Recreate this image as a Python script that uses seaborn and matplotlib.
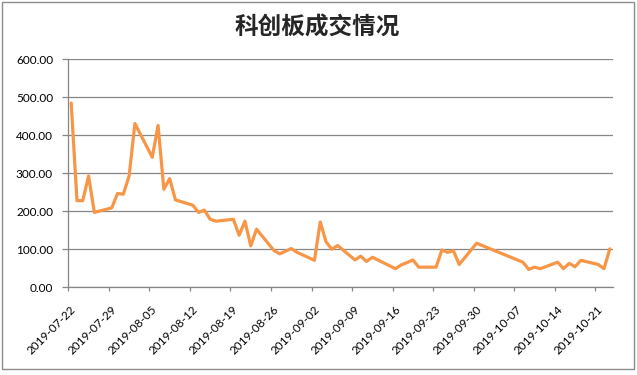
import numpy as np
import pandas as pd
import matplotlib
matplotlib.use("Agg")
import matplotlib.pyplot as plt
import matplotlib.dates as mdates
import matplotlib.ticker as mticker
from matplotlib.patches import Rectangle
from matplotlib.transforms import ScaledTranslation
import seaborn as sns

title = "科创板成交情况"
dates = [
    "2019-07-22", "2019-07-23", "2019-07-24", "2019-07-25", "2019-07-26",
    "2019-07-29", "2019-07-30", "2019-07-31", "2019-08-01", "2019-08-02",
    "2019-08-05", "2019-08-06", "2019-08-07", "2019-08-08", "2019-08-09",
    "2019-08-12", "2019-08-13", "2019-08-14", "2019-08-15", "2019-08-16",
    "2019-08-19", "2019-08-20", "2019-08-21", "2019-08-22", "2019-08-23",
    "2019-08-26", "2019-08-27", "2019-08-28", "2019-08-29", "2019-08-30",
    "2019-09-02", "2019-09-03", "2019-09-04", "2019-09-05", "2019-09-06",
    "2019-09-09", "2019-09-10", "2019-09-11", "2019-09-12",
    "2019-09-16", "2019-09-17", "2019-09-18", "2019-09-19", "2019-09-20",
    "2019-09-23", "2019-09-24", "2019-09-25", "2019-09-26", "2019-09-27",
    "2019-09-30",
    "2019-10-08", "2019-10-09", "2019-10-10", "2019-10-11",
    "2019-10-14", "2019-10-15", "2019-10-16", "2019-10-17", "2019-10-18",
    "2019-10-21", "2019-10-22", "2019-10-23",
]
turnover = [
    485, 228, 228, 293, 197,
    209, 247, 245, 293, 431,
    342, 426, 258, 286, 230,
    216, 197, 203, 179, 174,
    179, 137, 174, 109, 153,
    97, 88, 95, 102, 92,
    71, 172, 120, 100, 110,
    72, 82, 68, 79,
    49, 59, 65, 72, 53,
    53, 98, 92, 96, 60,
    116,
    66, 47, 53, 49,
    66, 49, 63, 54, 71,
    60, 49, 101,
]
tick_dates = pd.date_range("2019-07-22", "2019-10-21", freq="7D")
y_ticks = [0, 100, 200, 300, 400, 500, 600]

df = pd.DataFrame({"date": pd.to_datetime(dates) + pd.Timedelta(hours=12),
                   "value": turnover})

sns.set_theme(style="white")
plt.rcParams["font.family"] = ["Lato", "DejaVu Sans"]

fig = plt.figure(figsize=(6.37, 3.75), dpi=100)
ax = fig.add_axes([68.3 / 637, 1 - 287.3 / 375, (612.7 - 68.3) / 637, (287.3 - 59.3) / 375])

sns.lineplot(data=df, x="date", y="value", ax=ax, color="#F79646", linewidth=2.3,
             solid_joinstyle="round", solid_capstyle="round")

ax.set_xlim(pd.Timestamp("2019-07-22"), pd.Timestamp("2019-10-24"))
ax.set_ylim(0, 600)
ax.set_yticks(y_ticks)
ax.yaxis.set_major_formatter(mticker.FormatStrFormatter("%.2f"))
ax.set_xticks(tick_dates)
ax.xaxis.set_major_formatter(mdates.DateFormatter("%Y-%m-%d"))
ax.set_xlabel("")
ax.set_ylabel("")

grid_c = "#868686"
ax.grid(axis="y", color=grid_c, linewidth=0.9)
ax.grid(axis="x", visible=False)
for s in ["top", "right"]:
    ax.spines[s].set_visible(False)
for s in ["left", "bottom"]:
    ax.spines[s].set_color(grid_c)
    ax.spines[s].set_linewidth(0.9)

ax.tick_params(axis="y", which="major", direction="out", length=4, width=0.9,
               color=grid_c, left=True, pad=7, labelsize=8.5, labelcolor="#000000")
ax.tick_params(axis="x", which="major", direction="out", length=3, width=0.9,
               color=grid_c, bottom=True, pad=0, labelsize=8.5, labelcolor="#000000")

offset = ScaledTranslation(6 / 100, -16 / 100, fig.dpi_scale_trans)
for lab in ax.get_xticklabels():
    lab.set_rotation(45)
    lab.set_rotation_mode("anchor")
    lab.set_ha("right")
    lab.set_va("center")
    lab.set_transform(lab.get_transform() + offset)

fig.text(317.5 / 637, 1 - 28 / 375, title, ha="center", va="center",
         fontsize=17, fontweight="bold", family=["Noto Sans CJK SC", "DejaVu Sans"])

fig.patches.append(Rectangle((2 / 637, 1 - 369 / 375), (634 - 2) / 637, (369 - 2) / 375,
                             transform=fig.transFigure, fill=False,
                             edgecolor="#8c8c8c", linewidth=1))

fig.savefig("out.png", dpi=100)
